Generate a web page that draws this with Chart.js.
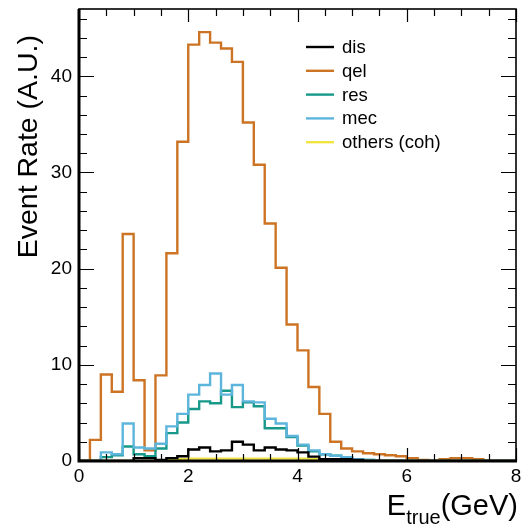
<!DOCTYPE html>
<html>
<head>
<meta charset="utf-8">
<script src="https://cdn.jsdelivr.net/npm/chart.js@4.4.1/dist/chart.umd.min.js"></script>
<style>
  html, body { margin: 0; padding: 0; background: #fff; }
  #wrap { width: 524px; height: 527px; }
</style>
</head>
<body>
<div id="wrap"><canvas id="histChart" width="524" height="527"></canvas></div>
<script>
// 40 bins of 0.2 GeV from 0 to 8 GeV
const binWidth = 0.2;
const binEdges = Array.from({ length: 41 }, (_, i) => +(i * binWidth).toFixed(1));

const seriesNames = ['dis', 'qel', 'res', 'mec', 'others (coh)'];
const seriesColors = ['#000000', '#cc7424', '#17998a', '#5db5dc', '#f0e442'];

const disValues = [
  0, 0, 0, 0, 0, 0.3, 0.3, 0.1, 0.3, 0.5,
  1.2, 1.4, 1.0, 1.1, 2.0, 1.7, 1.1, 1.4, 1.2, 1.1,
  0.9, 0.45, 0.2, 0.2, 0.2, 0.1, 0, 0, 0, 0,
  0, 0, 0, 0, 0, 0, 0, 0, 0, 0
];
const qelValues = [
  0, 2.2, 9.0, 7.2, 23.6, 8.4, 1.1, 8.9, 21.6, 33.2,
  43.3, 44.6, 43.5, 42.9, 41.5, 35.2, 30.8, 24.7, 20.1, 14.2,
  11.5, 7.7, 4.9, 2.0, 1.3, 1.0, 0.8, 0.7, 0.6, 0.5,
  0.3, 0.1, 0, 0.2, 0.3, 0.3, 0.2, 0, 0, 0
];
const resValues = [
  0, 0, 0.4, 0.6, 1.5, 0.7, 0.5, 1.3, 2.9, 4.0,
  5.4, 6.2, 6.0, 7.3, 5.6, 6.1, 5.7, 3.4, 3.4, 2.5,
  1.6, 1.0, 0.7, 0.55, 0.35, 0.2, 0.1, 0, 0, 0,
  0, 0, 0, 0, 0, 0, 0, 0, 0, 0
];
const mecValues = [
  0, 0, 0.9, 0.7, 3.9, 1.4, 1.3, 1.8, 3.6, 4.9,
  6.9, 7.9, 9.1, 6.9, 7.9, 6.2, 6.1, 4.4, 3.9, 2.6,
  1.7, 1.1, 0.7, 0.55, 0.4, 0.2, 0.1, 0.05, 0, 0,
  0, 0, 0, 0, 0, 0, 0, 0, 0, 0
];
const othersValues = [
  0, 0, 0, 0, 0, 0, 0, 0, 0.1, 0.2,
  0.25, 0.25, 0.25, 0.25, 0.25, 0.25, 0.25, 0.25, 0.25, 0.25,
  0.25, 0.2, 0.15, 0.1, 0, 0, 0, 0, 0, 0,
  0, 0, 0, 0, 0, 0, 0, 0, 0, 0
];

const xTicks = [0, 2, 4, 6, 8];
const yTicks = [0, 10, 20, 30, 40];

const FONT = '"Liberation Sans", Arial, Helvetica, sans-serif';

// histogram outline: one point per bin edge, value held until the next edge
function histPoints(values) {
  const pts = values.map((v, i) => ({ x: binEdges[i], y: v }));
  pts.push({ x: binEdges[binEdges.length - 1], y: values[values.length - 1] });
  return pts;
}

const allValues = [disValues, qelValues, resValues, mecValues, othersValues];

const datasets = allValues.map((vals, i) => ({
  label: seriesNames[i],
  data: histPoints(vals),
  stepped: 'before',
  borderColor: seriesColors[i],
  backgroundColor: seriesColors[i],
  borderWidth: 2.4,
  pointRadius: 0,
  fill: false,
  order: i === 0 ? 0 : (i === 4 ? 1 : 5 - i + 1)
}));

const rootStyle = {
  id: 'rootStyle',
  afterDatasetsDraw(chart) {
    const { ctx, chartArea: a, scales: { x, y } } = chart;
    ctx.save();
    ctx.strokeStyle = '#000';

    // inward ticks, all four sides
    ctx.lineWidth = 1.2;
    ctx.beginPath();
    for (let v = 0; v <= 8.001; v += 0.5) {
      const px = Math.round(x.getPixelForValue(v)) + 0.5;
      const len = (Math.abs(v % 2) < 1e-6) ? 13 : 7;
      ctx.moveTo(px, a.bottom); ctx.lineTo(px, a.bottom - len);
      ctx.moveTo(px, a.top); ctx.lineTo(px, a.top + len);
    }
    for (let v = 0; v <= 46; v += 2) {
      const py = Math.round(y.getPixelForValue(v)) + 0.5;
      const len = (v % 10 === 0) ? 15 : 8;
      ctx.moveTo(a.left, py); ctx.lineTo(a.left + len, py);
      ctx.moveTo(a.right, py); ctx.lineTo(a.right - len, py);
    }
    ctx.stroke();

    // frame
    ctx.lineWidth = 1.6;
    ctx.strokeRect(a.left, a.top, a.right - a.left, a.bottom - a.top);
    ctx.lineWidth = 3;
    ctx.beginPath();
    ctx.moveTo(a.left, a.top); ctx.lineTo(a.left, a.bottom + 1.5);
    ctx.moveTo(a.left - 1.5, a.bottom); ctx.lineTo(a.right + 1, a.bottom);
    ctx.stroke();

    // legend
    const legX = 306, legLine = 28, legTextX = 342, legY0 = 47, legDy = 23.8;
    ctx.font = '18.5px ' + FONT;
    ctx.textAlign = 'left';
    ctx.textBaseline = 'middle';
    seriesNames.forEach((name, i) => {
      const ly = legY0 + i * legDy;
      ctx.strokeStyle = seriesColors[i];
      ctx.lineWidth = 2.4;
      ctx.beginPath();
      ctx.moveTo(legX, ly); ctx.lineTo(legX + legLine, ly);
      ctx.stroke();
      ctx.fillStyle = '#000';
      ctx.fillText(name, legTextX, ly + 1);
    });

    // y title, right aligned at top
    ctx.fillStyle = '#000';
    ctx.save();
    ctx.translate(37, 35);
    ctx.rotate(-Math.PI / 2);
    ctx.font = '28.5px ' + FONT;
    ctx.textAlign = 'right';
    ctx.textBaseline = 'alphabetic';
    ctx.fillText('Event Rate (A.U.)', 0, 0);
    ctx.restore();

    // x title with subscript, right aligned
    const mainFont = '29px ' + FONT, subFont = '20px ' + FONT;
    ctx.textBaseline = 'alphabetic';
    ctx.textAlign = 'left';
    ctx.font = mainFont;
    const wE = ctx.measureText('E').width;
    const wTail = ctx.measureText('(GeV)').width;
    ctx.font = subFont;
    const wSub = ctx.measureText('true').width;
    const base = 515;
    let cx = 518 - (wE + wSub + wTail);
    ctx.font = mainFont; ctx.fillText('E', cx, base); cx += wE;
    ctx.font = subFont; ctx.fillText('true', cx, base + 9); cx += wSub;
    ctx.font = mainFont; ctx.fillText('(GeV)', cx, base);

    ctx.restore();
  }
};

new Chart(document.getElementById('histChart'), {
  type: 'line',
  data: { datasets: datasets },
  options: {
    responsive: false,
    animation: false,
    layout: { padding: { top: 9, right: 8, left: 0, bottom: 0 } },
    plugins: { legend: { display: false }, tooltip: { enabled: false } },
    scales: {
      x: {
        type: 'linear',
        min: 0,
        max: 8,
        afterFit: s => { s.height = 66; s.paddingLeft = 0; s.paddingRight = 0; },
        afterBuildTicks: s => { s.ticks = xTicks.map(v => ({ value: v })); },
        grid: { display: false, drawTicks: false },
        border: { display: false },
        ticks: {
          color: '#000',
          padding: 4,
          maxRotation: 0,
          autoSkip: false,
          font: { size: 19, family: FONT }
        }
      },
      y: {
        type: 'linear',
        min: 0,
        max: 47,
        afterFit: s => { s.width = 79; s.paddingTop = 0; s.paddingBottom = 0; },
        afterBuildTicks: s => { s.ticks = yTicks.map(v => ({ value: v })); },
        grid: { display: false, drawTicks: false },
        border: { display: false },
        ticks: {
          color: '#000',
          padding: 7,
          font: { size: 19, family: FONT }
        }
      }
    }
  },
  plugins: [rootStyle]
});
</script>
</body>
</html>
